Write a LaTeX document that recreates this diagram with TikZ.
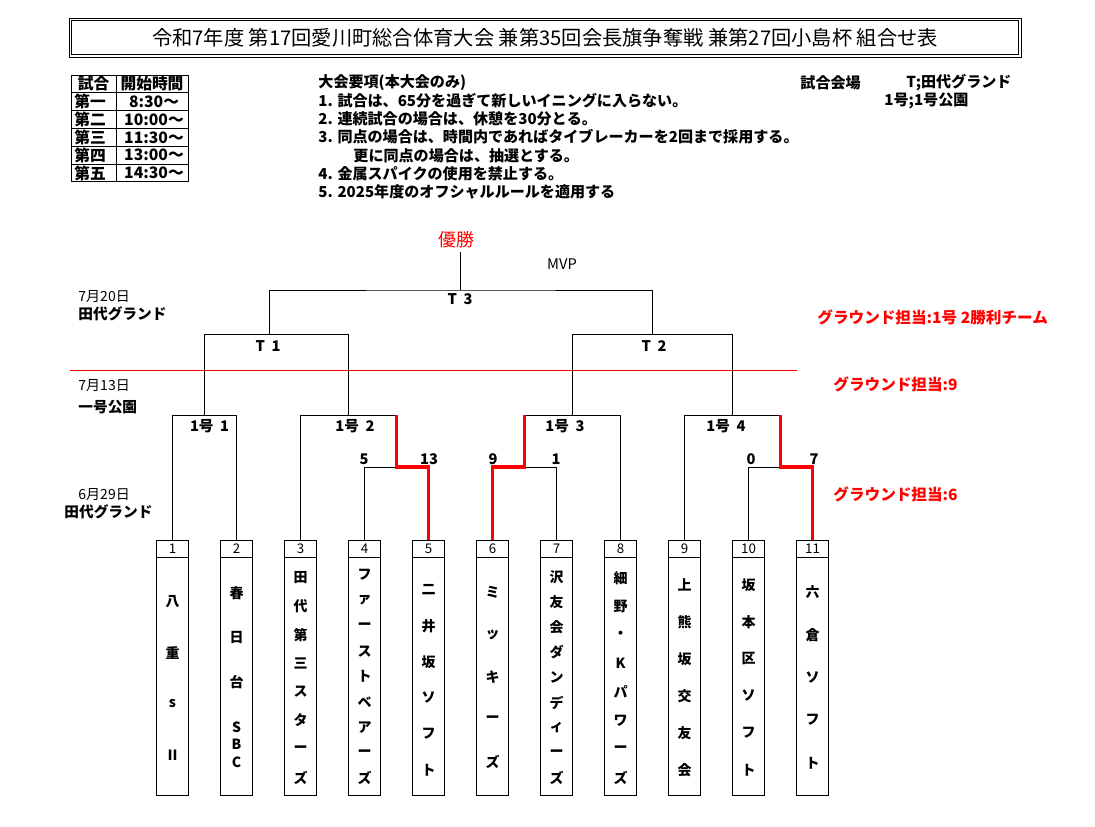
\documentclass[tikz,border=0pt]{standalone}
\usepackage{fontspec}
\setmainfont{Noto Sans CJK JP}
\usepackage{xcolor}
\usetikzlibrary{positioning}
\definecolor{winred}{RGB}{255, 0, 0}

\begin{document}
\begin{tikzpicture}[x=0.75pt, y=-0.75pt, line width=0.7pt,
    cell/.style={font=\fontsize{11.8}{12}\selectfont\bfseries, inner sep=0pt},
    rule/.style={font=\fontsize{11.3}{12}\selectfont\bfseries, inner sep=0pt, anchor=west},
    datelbl/.style={font=\fontsize{10.5}{12}\selectfont, inner sep=0pt, anchor=west},
    placelbl/.style={font=\fontsize{11}{12}\selectfont\bfseries, inner sep=0pt, anchor=west},
    redlbl/.style={font=\fontsize{11.7}{12}\selectfont\bfseries, text=winred, inner sep=0pt, anchor=west},
    matchlbl/.style={font=\fontsize{11}{12}\selectfont\bfseries, inner sep=0pt},
    numbox/.style={draw, minimum width=24pt, minimum height=12.75pt, inner sep=0pt, font=\fontsize{10}{10}\selectfont},
    namebox/.style={draw, minimum width=24pt, minimum height=178.5pt, inner sep=0pt},
    teamtxt/.style={font=\fontsize{10.5}{10}\selectfont\bfseries, inner sep=0pt},
    redpath/.style={draw=winred, line width=2.3pt}]
    \useasboundingbox (0,0) rectangle (1095,826);

    % Title
    \draw (69,18) rectangle (1021,57);
    \draw (71.5,20.5) rectangle (1018.5,54.5);
    \node[font=\fontsize{15.2}{18}\selectfont, inner sep=0pt] (title) at (545,38)
        {令和7年度 第17回愛川町総合体育大会 兼第35回会長旗争奪戦 兼第27回小島杯 組合せ表};

    % Schedule table
    \draw (71,75) rectangle (188,181.8);
    \draw (116,75) -- (116,181.8);
    \foreach \r in {1,...,5} {
        \draw (71,{75+17.8*\r}) -- (188,{75+17.8*\r});
    }
    \node[cell] (hgame) at (93.5,84) {試合};
    \node[cell] (htime) at (152,84) {開始時間};
    \foreach \r/\g/\t in {1/第一/8:30～, 2/第二/10:00～, 3/第三/11:30～, 4/第四/13:00～, 5/第五/14:30～} {
        \node[cell] (game\r) at (90,{84+17.8*\r}) {\g};
        \node[cell] (time\r) at (154,{84+17.8*\r}) {\t};
    }

    % Rules
    \foreach \k/\x/\s in {0/318/{大会要項(本大会のみ)},
        1/318/{1. 試合は、65分を過ぎて新しいイニングに入らない。},
        2/318/{2. 連続試合の場合は、休憩を30分とる。},
        3/318/{3. 同点の場合は、時間内であればタイブレーカーを2回まで採用する。},
        4/353/{更に同点の場合は、抽選とする。},
        5/318/{4. 金属スパイクの使用を禁止する。},
        6/318/{5. 2025年度のオフシャルルールを適用する}} {
        \node[rule] (rule\k) at (\x,{82.5+18.2*\k}) {\s};
    }

    % Venues
    \node[rule] (venue) at (800,83) {試合会場};
    \node[rule] (venueT) at (906,83) {T;田代グランド};
    \node[rule] (venue1) at (884,101) {1号;1号公園};

    % Dates
    \node[datelbl] (date1) at (78,297) {7月20日};
    \node[placelbl] (place1) at (78,314) {田代グランド};
    \node[datelbl] (date2) at (78,386) {7月13日};
    \node[placelbl] (place2) at (78,407) {一号公園};
    \node[datelbl] (date3) at (78,495) {6月29日};
    \node[placelbl] (place3) at (64,512) {田代グランド};

    % Ground duty
    \node[redlbl] (duty1) at (817,317) {グラウンド担当:1号 2勝利チーム};
    \node[redlbl] (duty2) at (833,384) {グラウンド担当:9};
    \node[redlbl] (duty3) at (833,494) {グラウンド担当:6};
    \draw[winred, line width=0.7pt] (70,370) -- (797,370);

    % Teams
    \foreach \i in {1,...,11} {
        \node[numbox] (n\i) at ({172.5+64*(\i-1)},548.5) {\i};
        \node[namebox, below=0pt of n\i] (b\i) {};
    }
    \foreach \i/\y/\sp/\nm in {1/602/51/{八,重,s,Ⅱ},
        3/578/28.5/{田,代,第,三,ス,タ,ー,ズ},
        4/575/25.4/{フ,ァ,ー,ス,ト,ベ,ア,ー,ズ},
        5/590/36/{二,井,坂,ソ,フ,ト},
        6/592/42.5/{ミ,ッ,キ,ー,ズ},
        7/577/25.1/{沢,友,会,ダ,ン,デ,ィ,ー,ズ},
        8/578/28.5/{細,野,・,K,パ,ワ,ー,ズ},
        9/585/37/{上,熊,坂,交,友,会},
        10/585/37/{坂,本,区,ソ,フ,ト},
        11/592/42.7/{六,倉,ソ,フ,ト}} {
        \foreach \c [count=\k from 0] in \nm {
            \node[teamtxt] (c\i-\k) at ({172.5+64*(\i-1)},{\y+\k*\sp}) {\c};
        }
    }
    \foreach \c/\y [count=\k from 0] in {春/593, 日/637, 台/682, S/727, B/744, C/762} {
        \node[teamtxt] (c2-\k) at (236.5,\y) {\c};
    }

    % Bracket points
    \coordinate (s2) at (396.5,467);
    \coordinate (s3) at (524.5,467);
    \coordinate (s4) at (780.5,467);
    \coordinate (g1) at (204.5,415);
    \coordinate (g2) at (348.5,415);
    \coordinate (g3) at (572.5,415);
    \coordinate (g4) at (732.5,415);
    \coordinate (t1) at (276.5,334);
    \coordinate (tl) at (269,334);
    \coordinate (t2) at (652.5,334);
    \coordinate (f) at (460.7,290);

    % Bracket lines
    \draw (n1.north) |- (g1) -| (n2.north);
    \draw (n3.north) |- (g2) -| (s2);
    \draw (n4.north) |- (s2) -| (n5.north);
    \draw (n6.north) |- (s3) -| (n7.north);
    \draw (s3) |- (g3) -| (n8.north);
    \draw (n9.north) |- (g4) -| (s4);
    \draw (n10.north) |- (s4) -| (n11.north);
    \draw (g1) |- (t1) -| (g2);
    \draw (g3) |- (t2) -| (g4);
    \draw (tl) |- (f) -| (t2);

    % Winners
    \draw[redpath] (g2 -| s2) -- (s2) -| (n5.north);
    \draw[redpath] (g3 -| s3) -- (s3) -| (n6.north);
    \draw[redpath] (g4 -| s4) -- (s4) -| (n11.north);

    % Champion
    \node[font=\fontsize{13.5}{14}\selectfont, text=winred, inner sep=0pt] (win) at (456,240) {優勝};
    \draw (f) -- (f |- 0,252);
    \node[font=\fontsize{11}{12}\selectfont, inner sep=0pt] (mvp) at (562,264) {MVP};

    % Match labels
    \node[matchlbl] (lbl3) at (460,299) {T\hspace{0.45em}3};
    \node[matchlbl] (lbl1) at (268,346) {T\hspace{0.45em}1};
    \node[matchlbl] (lbl2) at (654,346) {T\hspace{0.45em}2};
    \foreach \m/\x in {1/209.6, 2/355, 3/565, 4/726} {
        \node[matchlbl] (lblg\m) at (\x,426) {1号\hspace{0.45em}\m};
    }
    \foreach \t/\x/\v in {4/364/5, 5/429/13, 6/493/9, 7/556/1, 10/751/0, 11/814/7} {
        \node[matchlbl] (score\t) at (\x,459) {\v};
    }
\end{tikzpicture}
\end{document}
